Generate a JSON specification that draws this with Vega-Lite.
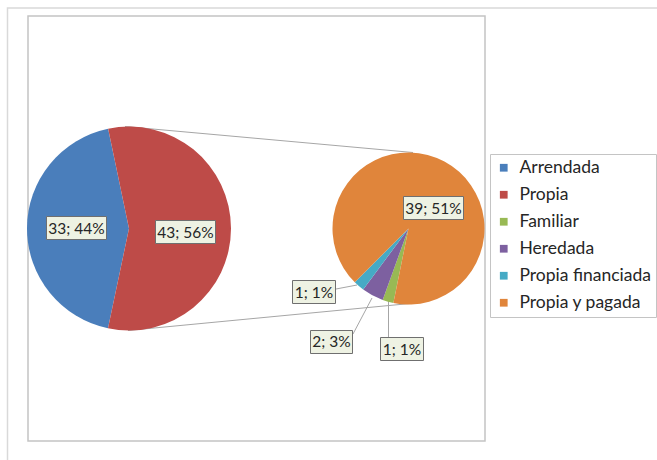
{
  "$schema": "https://vega.github.io/schema/vega-lite/v6.json",
  "width": 657,
  "height": 460,
  "autosize": "none",
  "padding": 0,
  "background": "white",
  "config": {"view": {"stroke": null}, "font": "Lato"},
  "datasets": {
    "tenencia": [
      {"grafico": "principal", "categoria": "Arrendada", "valor": 33, "orden": 2, "etiqueta": "33; 44%"},
      {"grafico": "principal", "categoria": "Propia", "valor": 43, "orden": 1, "etiqueta": "43; 56%"},
      {"grafico": "secundario", "categoria": "Familiar", "valor": 1, "orden": 1, "etiqueta": "1; 1%"},
      {"grafico": "secundario", "categoria": "Heredada", "valor": 2, "orden": 2, "etiqueta": "2; 3%"},
      {"grafico": "secundario", "categoria": "Propia financiada", "valor": 1, "orden": 3, "etiqueta": "1; 1%"},
      {"grafico": "secundario", "categoria": "Propia y pagada", "valor": 39, "orden": 4, "etiqueta": "39; 51%"}
    ]
  },
  "resolve": {"scale": {"theta": "independent"}},
  "layer": [
    {
      "data": {"values": [{}]},
      "mark": {"type": "rect", "fill": null, "stroke": "#d9d9d9", "strokeWidth": 1.5},
      "encoding": {
        "x": {"datum": 7.5, "type": "quantitative", "scale": {"domain": [0, 657], "nice": false, "zero": false}, "axis": null},
        "x2": {"datum": 800},
        "y": {"datum": 8, "type": "quantitative", "scale": {"domain": [0, 460], "nice": false, "zero": false, "reverse": true}, "axis": null},
        "y2": {"datum": 600}
      }
    },
    {
      "data": {"values": [{}]},
      "mark": {"type": "rect", "fill": "white", "stroke": "#c4c4c4", "strokeWidth": 1.5},
      "encoding": {
        "x": {"datum": 28, "type": "quantitative", "axis": null},
        "x2": {"datum": 485},
        "y": {"datum": 16, "type": "quantitative", "axis": null},
        "y2": {"datum": 441}
      }
    },
    {
      "data": {"values": [{}]},
      "mark": {"type": "rule", "stroke": "#a6a6a6", "strokeWidth": 1},
      "encoding": {
        "x": {"datum": 125, "type": "quantitative", "axis": null},
        "x2": {"datum": 413},
        "y": {"datum": 126.5, "type": "quantitative", "axis": null},
        "y2": {"datum": 152.5}
      }
    },
    {
      "data": {"values": [{}]},
      "mark": {"type": "rule", "stroke": "#a6a6a6", "strokeWidth": 1},
      "encoding": {
        "x": {"datum": 128, "type": "quantitative", "axis": null},
        "x2": {"datum": 410},
        "y": {"datum": 330.5, "type": "quantitative", "axis": null},
        "y2": {"datum": 303.5}
      }
    },
    {
      "data": {"values": [{}]},
      "mark": {"type": "rule", "stroke": "#a6a6a6", "strokeWidth": 1},
      "encoding": {
        "x": {"datum": 336, "type": "quantitative", "axis": null},
        "x2": {"datum": 357},
        "y": {"datum": 289, "type": "quantitative", "axis": null},
        "y2": {"datum": 285}
      }
    },
    {
      "data": {"values": [{}]},
      "mark": {"type": "rule", "stroke": "#a6a6a6", "strokeWidth": 1},
      "encoding": {
        "x": {"datum": 353, "type": "quantitative", "axis": null},
        "x2": {"datum": 372},
        "y": {"datum": 334, "type": "quantitative", "axis": null},
        "y2": {"datum": 298}
      }
    },
    {
      "data": {"values": [{}]},
      "mark": {"type": "rule", "stroke": "#a6a6a6", "strokeWidth": 1},
      "encoding": {
        "x": {"datum": 388.5, "type": "quantitative", "axis": null},
        "x2": {"datum": 388.5},
        "y": {"datum": 337, "type": "quantitative", "axis": null},
        "y2": {"datum": 300}
      }
    },
    {
      "data": {"name": "tenencia"},
      "transform": [{"filter": "datum.grafico === 'principal'"}],
      "mark": {"type": "arc", "radius": 102},
      "encoding": {
        "x": {"datum": 129, "type": "quantitative", "axis": null},
        "y": {"datum": 228.5, "type": "quantitative", "axis": null},
        "theta": {"field": "valor", "type": "quantitative", "stack": true, "scale": {"range": [-0.206, 6.077]}},
        "order": {"field": "orden", "type": "quantitative"},
        "color": {
          "field": "categoria",
          "type": "nominal",
          "scale": {
            "domain": ["Arrendada", "Propia", "Familiar", "Heredada", "Propia financiada", "Propia y pagada"],
            "range": ["#4A7EBB", "#BE4B48", "#98B954", "#7D60A0", "#46AAC5", "#E0853B"]
          },
          "legend": {
            "orient": "none",
            "legendX": 490,
            "legendY": 154,
            "title": null,
            "symbolType": "square",
            "symbolSize": 60,
            "symbolStrokeWidth": 0,
            "labelFont": "Lato",
            "labelFontSize": 17.5,
            "labelColor": "#262626",
            "labelOffset": 7,
            "labelLimit": 300,
            "rowPadding": 8,
            "padding": 5,
            "strokeColor": "#c4c4c4",
            "fillColor": "white"
          }
        }
      }
    },
    {
      "data": {"name": "tenencia"},
      "transform": [{"filter": "datum.grafico === 'secundario'"}],
      "mark": {"type": "arc", "radius": 76},
      "encoding": {
        "x": {"datum": 408.5, "type": "quantitative", "axis": null},
        "y": {"datum": 228.5, "type": "quantitative", "axis": null},
        "theta": {"field": "valor", "type": "quantitative", "stack": true, "scale": {"range": [3.342, 9.625]}},
        "order": {"field": "orden", "type": "quantitative"},
        "color": {"field": "categoria", "type": "nominal"}
      }
    },
    {
      "data": {"values": [{}]},
      "mark": {"type": "rect", "fill": "#EEF2E3", "stroke": "#6f6f6f", "strokeWidth": 1},
      "encoding": {
        "x": {"datum": 46.5, "type": "quantitative", "axis": null},
        "x2": {"datum": 106.5},
        "y": {"datum": 216.5, "type": "quantitative", "axis": null},
        "y2": {"datum": 239.5}
      }
    },
    {
      "data": {"values": [{}]},
      "mark": {"type": "rect", "fill": "#EEF2E3", "stroke": "#6f6f6f", "strokeWidth": 1},
      "encoding": {
        "x": {"datum": 155.5, "type": "quantitative", "axis": null},
        "x2": {"datum": 215.5},
        "y": {"datum": 220.5, "type": "quantitative", "axis": null},
        "y2": {"datum": 243.5}
      }
    },
    {
      "data": {"values": [{}]},
      "mark": {"type": "rect", "fill": "#EEF2E3", "stroke": "#6f6f6f", "strokeWidth": 1},
      "encoding": {
        "x": {"datum": 403.5, "type": "quantitative", "axis": null},
        "x2": {"datum": 463.5},
        "y": {"datum": 196.5, "type": "quantitative", "axis": null},
        "y2": {"datum": 219.5}
      }
    },
    {
      "data": {"values": [{}]},
      "mark": {"type": "rect", "fill": "#EEF2E3", "stroke": "#6f6f6f", "strokeWidth": 1},
      "encoding": {
        "x": {"datum": 292.5, "type": "quantitative", "axis": null},
        "x2": {"datum": 335.5},
        "y": {"datum": 280.5, "type": "quantitative", "axis": null},
        "y2": {"datum": 303.5}
      }
    },
    {
      "data": {"values": [{}]},
      "mark": {"type": "rect", "fill": "#EEF2E3", "stroke": "#6f6f6f", "strokeWidth": 1},
      "encoding": {
        "x": {"datum": 310.5, "type": "quantitative", "axis": null},
        "x2": {"datum": 352.5},
        "y": {"datum": 330.5, "type": "quantitative", "axis": null},
        "y2": {"datum": 353.5}
      }
    },
    {
      "data": {"values": [{}]},
      "mark": {"type": "rect", "fill": "#EEF2E3", "stroke": "#6f6f6f", "strokeWidth": 1},
      "encoding": {
        "x": {"datum": 380.5, "type": "quantitative", "axis": null},
        "x2": {"datum": 423.5},
        "y": {"datum": 337.5, "type": "quantitative", "axis": null},
        "y2": {"datum": 360.5}
      }
    },
    {
      "data": {"name": "tenencia"},
      "transform": [{"filter": "datum.grafico === 'principal'"}],
      "encoding": {
        "x": {"datum": 129, "type": "quantitative", "axis": null},
        "y": {"datum": 228.5, "type": "quantitative", "axis": null},
        "theta": {"field": "valor", "type": "quantitative", "stack": true, "scale": {"range": [-0.206, 6.077]}},
        "order": {"field": "orden", "type": "quantitative"},
        "detail": {"field": "categoria"}
      },
      "layer": [
        {
          "mark": {"type": "text", "radius": 54.5, "dx": 2, "dy": 0.5, "font": "Lato", "fontSize": 15.5, "fill": "#262626"},
          "encoding": {"text": {"condition": {"test": "datum.categoria === 'Arrendada'", "field": "etiqueta"}, "value": ""}}
        },
        {
          "mark": {"type": "text", "radius": 54.5, "dx": 2, "dy": 4, "font": "Lato", "fontSize": 15.5, "fill": "#262626"},
          "encoding": {"text": {"condition": {"test": "datum.categoria === 'Propia'", "field": "etiqueta"}, "value": ""}}
        }
      ]
    },
    {
      "data": {"name": "tenencia"},
      "transform": [{"filter": "datum.grafico === 'secundario'"}],
      "encoding": {
        "x": {"datum": 408.5, "type": "quantitative", "axis": null},
        "y": {"datum": 228.5, "type": "quantitative", "axis": null},
        "theta": {"field": "valor", "type": "quantitative", "stack": true, "scale": {"range": [3.342, 9.625]}},
        "order": {"field": "orden", "type": "quantitative"},
        "detail": {"field": "categoria"}
      },
      "layer": [
        {
          "mark": {"type": "text", "radius": 32, "dx": 9.9, "dy": 8.2, "font": "Lato", "fontSize": 15.5, "fill": "#262626"},
          "encoding": {"text": {"condition": {"test": "datum.categoria === 'Propia y pagada'", "field": "etiqueta"}, "value": ""}}
        },
        {
          "mark": {"type": "text", "radius": 114, "dx": -20, "dy": -22.3, "font": "Lato", "fontSize": 15.5, "fill": "#262626"},
          "encoding": {"text": {"condition": {"test": "datum.categoria === 'Propia financiada'", "field": "etiqueta"}, "value": ""}}
        },
        {
          "mark": {"type": "text", "radius": 138, "dx": -11.7, "dy": -7.6, "font": "Lato", "fontSize": 15.5, "fill": "#262626"},
          "encoding": {"text": {"condition": {"test": "datum.categoria === 'Heredada'", "field": "etiqueta"}, "value": ""}}
        },
        {
          "mark": {"type": "text", "radius": 121, "dx": 26.2, "dy": 4.7, "font": "Lato", "fontSize": 15.5, "fill": "#262626"},
          "encoding": {"text": {"condition": {"test": "datum.categoria === 'Familiar'", "field": "etiqueta"}, "value": ""}}
        }
      ]
    }
  ]
}
